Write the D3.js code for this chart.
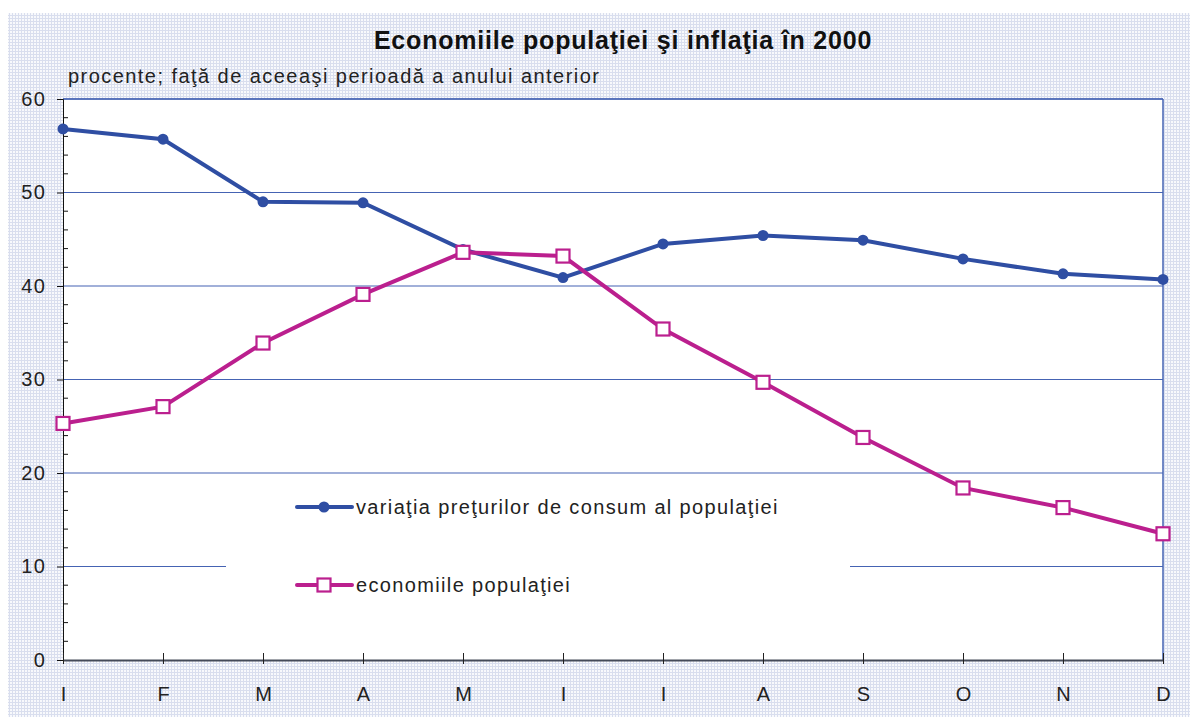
<!DOCTYPE html>
<html>
<head>
<meta charset="utf-8">
<script src="https://cdn.jsdelivr.net/npm/d3@7"></script>
<style>
  body { margin: 0; background: #fff; }
  svg { display: block; font-family: "Liberation Sans", Arial, sans-serif; }
</style>
</head>
<body>
<svg width="1190" height="720"></svg>
<script>
// Chart data
const months = ["I", "F", "M", "A", "M", "I", "I", "A", "S", "O", "N", "D"];
const preturi = [56.8, 55.7, 49.0, 48.9, 43.9, 40.9, 44.5, 45.4, 44.9, 42.9, 41.3, 40.7];
const economii = [25.3, 27.1, 33.9, 39.1, 43.6, 43.2, 35.4, 29.7, 23.8, 18.4, 16.3, 13.5];
const yTicks = [0, 10, 20, 30, 40, 50, 60];

const blue = "#2f4ea3";
const pink = "#bb1f8e";
const gridBlue = "#4563b3";

const svg = d3.select("svg");

// Hatched background pattern
const defs = svg.append("defs");
const pat = defs.append("pattern")
    .attr("id", "hatch")
    .attr("width", 3)
    .attr("height", 3)
    .attr("patternUnits", "userSpaceOnUse");
pat.append("rect").attr("width", 3).attr("height", 3).attr("fill", "#f8f9fc");
pat.append("rect").attr("width", 1).attr("height", 3).attr("fill", "#d9deee");
pat.append("rect").attr("width", 3).attr("height", 1).attr("fill", "#d9deee");

svg.append("rect")
    .attr("x", 8).attr("y", 13)
    .attr("width", 1182).attr("height", 704)
    .attr("fill", "url(#hatch)");

const margin = { left: 63, top: 99, right: 1163, bottom: 660 };

const x = d3.scalePoint()
    .domain(d3.range(months.length))
    .range([margin.left, margin.right]);

const y = d3.scaleLinear()
    .domain([0, 60])
    .range([margin.bottom, margin.top]);

// White plot area
svg.append("rect")
    .attr("x", margin.left).attr("y", margin.top)
    .attr("width", margin.right - margin.left)
    .attr("height", margin.bottom - margin.top)
    .attr("fill", "#fff");

// Gridlines
svg.append("g")
    .selectAll("line")
    .data(yTicks.filter(d => d > 0))
    .enter().append("line")
    .attr("x1", margin.left)
    .attr("x2", margin.right)
    .attr("y1", d => y(d))
    .attr("y2", d => y(d))
    .attr("stroke", gridBlue)
    .attr("stroke-width", 1.2);

// Top and right border
svg.append("line")
    .attr("x1", margin.right).attr("x2", margin.right)
    .attr("y1", margin.top).attr("y2", margin.bottom)
    .attr("stroke", gridBlue)
    .attr("stroke-width", 1.5);
svg.append("line")
    .attr("x1", margin.left).attr("x2", margin.right)
    .attr("y1", margin.top).attr("y2", margin.top)
    .attr("stroke", gridBlue)
    .attr("stroke-width", 1.5);

// Minor ticks on y axis (inside)
svg.append("g")
    .selectAll("line")
    .data(d3.range(2, 60, 2).filter(d => d % 10 !== 0))
    .enter().append("line")
    .attr("x1", margin.left)
    .attr("x2", margin.left + 5)
    .attr("y1", d => y(d))
    .attr("y2", d => y(d))
    .attr("stroke", "#111")
    .attr("stroke-width", 1);

// Y axis
const yAxis = svg.append("g")
    .attr("transform", `translate(${margin.left},0)`)
    .call(d3.axisLeft(y).tickValues(yTicks).tickSize(6).tickPadding(11));
yAxis.select(".domain").attr("stroke", "#111");
yAxis.selectAll(".tick line").attr("stroke", "#111");
yAxis.selectAll("text")
    .attr("font-size", 20)
    .attr("letter-spacing", 1.2)
    .attr("fill", "#222");

// X axis
const xAxis = svg.append("g")
    .attr("transform", `translate(0,${margin.bottom})`)
    .call(d3.axisBottom(x).tickFormat(i => months[i]).tickSize(0).tickPadding(27));
xAxis.select(".domain").attr("stroke", "#444a58").attr("stroke-width", 2);
xAxis.selectAll("text")
    .attr("font-size", 20)
    .attr("fill", "#222");
xAxis.selectAll(".tick").append("line")
    .attr("y1", -7).attr("y2", 4)
    .attr("stroke", "#222");

// Legend box (white, covers gridline)
svg.append("rect")
    .attr("x", 226).attr("y", 478)
    .attr("width", 624).attr("height", 132)
    .attr("fill", "#fff");

// Series
const line = d3.line()
    .x((d, i) => x(i))
    .y(d => y(d));

svg.append("path")
    .datum(preturi)
    .attr("fill", "none")
    .attr("stroke", blue)
    .attr("stroke-width", 4)
    .attr("d", line);

svg.append("path")
    .datum(economii)
    .attr("fill", "none")
    .attr("stroke", pink)
    .attr("stroke-width", 4)
    .attr("d", line);

svg.append("g")
    .selectAll("circle")
    .data(preturi)
    .enter().append("circle")
    .attr("cx", (d, i) => x(i))
    .attr("cy", d => y(d))
    .attr("r", 5.5)
    .attr("fill", blue);

svg.append("g")
    .selectAll("rect")
    .data(economii)
    .enter().append("rect")
    .attr("x", (d, i) => x(i) - 6.5)
    .attr("y", d => y(d) - 6.5)
    .attr("width", 13)
    .attr("height", 13)
    .attr("fill", "#fff")
    .attr("stroke", pink)
    .attr("stroke-width", 2.2);

// Legend
const legendItems = [
    { label: "variaţia preţurilor de consum al populaţiei", color: blue, marker: "circle", y: 507 },
    { label: "economiile populaţiei", color: pink, marker: "square", y: 585 }
];

const legend = svg.selectAll(".legend")
    .data(legendItems)
    .enter().append("g")
    .attr("class", "legend")
    .attr("transform", d => `translate(0,${d.y})`);

legend.append("line")
    .attr("x1", 297).attr("x2", 352)
    .attr("stroke", d => d.color)
    .attr("stroke-width", 4)
    .attr("stroke-linecap", "round");

legend.filter(d => d.marker === "circle").append("circle")
    .attr("cx", 324).attr("r", 5.5)
    .attr("fill", d => d.color);

legend.filter(d => d.marker === "square").append("rect")
    .attr("x", 317.5).attr("y", -6.5)
    .attr("width", 13).attr("height", 13)
    .attr("fill", "#fff")
    .attr("stroke", d => d.color)
    .attr("stroke-width", 2.2);

legend.append("text")
    .attr("x", 356)
    .attr("dy", "0.35em")
    .attr("font-size", 20)
    .attr("letter-spacing", 1.35)
    .attr("fill", "#222")
    .text(d => d.label);

// Titles
svg.append("text")
    .attr("x", 623).attr("y", 49)
    .attr("text-anchor", "middle")
    .attr("font-size", 25)
    .attr("font-weight", "bold")
    .attr("letter-spacing", 0.8)
    .attr("fill", "#111")
    .text("Economiile populaţiei şi inflaţia în 2000");

svg.append("text")
    .attr("x", 68).attr("y", 83)
    .attr("font-size", 20)
    .attr("letter-spacing", 1.45)
    .attr("fill", "#222")
    .text("procente; faţă de aceeaşi perioadă a anului anterior");
</script>
</body>
</html>
